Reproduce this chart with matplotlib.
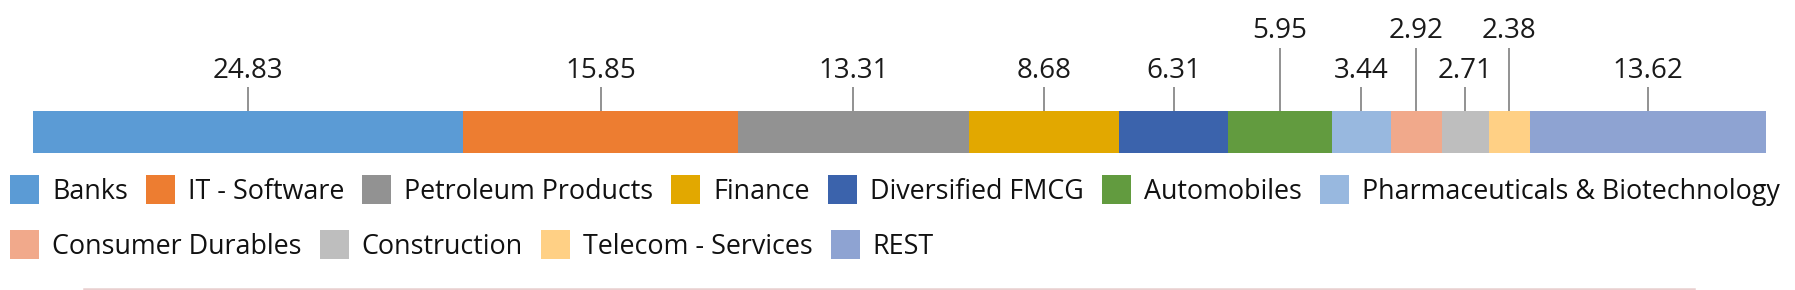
import matplotlib.pyplot as plt
import numpy as np
from matplotlib.patches import Rectangle

plt.rcParams['font.family'] = ['Open Sans', 'DejaVu Sans']

# dados do grafico
setores = ["Banks", "IT - Software", "Petroleum Products", "Finance",
           "Diversified FMCG", "Automobiles", "Pharmaceuticals & Biotechnology",
           "Consumer Durables", "Construction", "Telecom - Services", "REST"]
pesos = [24.83, 15.85, 13.31, 8.68, 6.31, 5.95, 3.44, 2.92, 2.71, 2.38, 13.62]
cores = ["#5B9BD5", "#ED7D31", "#929292", "#E2A800", "#3B63AC", "#629B3F",
         "#98B8DF", "#F1A98B", "#BEBEBE", "#FFD085", "#8EA3D2"]
linhas_legenda = [7, 4]  # itens por linha da legenda

W, H = 1795, 290
elevados = {5, 7, 9}  # rotulos que sobem para nao encostar

fig = plt.figure(figsize=(W / 100, H / 100), dpi=100, facecolor="w")

# eixo da barra: x em %, y em pixels (0 no topo)
ax = fig.add_axes([33 / W, 0, (1766 - 33) / W, 1])
ax.set_xlim(0, 100)
ax.set_ylim(H, 0)
ax.axis("off")

inicio = np.concatenate([[0], np.cumsum(pesos)[:-1]])
ax.barh(132, pesos, left=inicio, height=42, color=cores, linewidth=0)

for i, v in enumerate(pesos):
    xc = inicio[i] + v / 2
    topo = 48 if i in elevados else 87
    base = 38 if i in elevados else 78
    ax.vlines(xc, topo, 111, color="#7F7F7F", linewidth=1.2)
    ax.text(xc, base, f"{v:.2f}", ha="center", va="baseline",
            fontsize=20, color="#1a1a1a")

# eixo da legenda em pixels da figura
lg = fig.add_axes([0, 0, 1, 1])
lg.set_xlim(0, W)
lg.set_ylim(H, 0)
lg.axis("off")

fig.canvas.draw()
renderer = fig.canvas.get_renderer()

k = 0
for linha, n in enumerate(linhas_legenda):
    x = 10
    y_top = 175 + linha * 55
    for j in range(n):
        lg.add_patch(Rectangle((x, y_top), 29, 29, color=cores[k], linewidth=0))
        t = lg.text(x + 42, y_top + 24, setores[k], ha="left", va="baseline",
                    fontsize=19.4, color="#111111")
        w = t.get_window_extent(renderer).width
        x = x + 42 + w + 18
        k += 1

lg.plot([84, 1694], [289, 289], color="#E9CFCF", linewidth=1.8)

fig.savefig("out.png", dpi=100, facecolor="w")
